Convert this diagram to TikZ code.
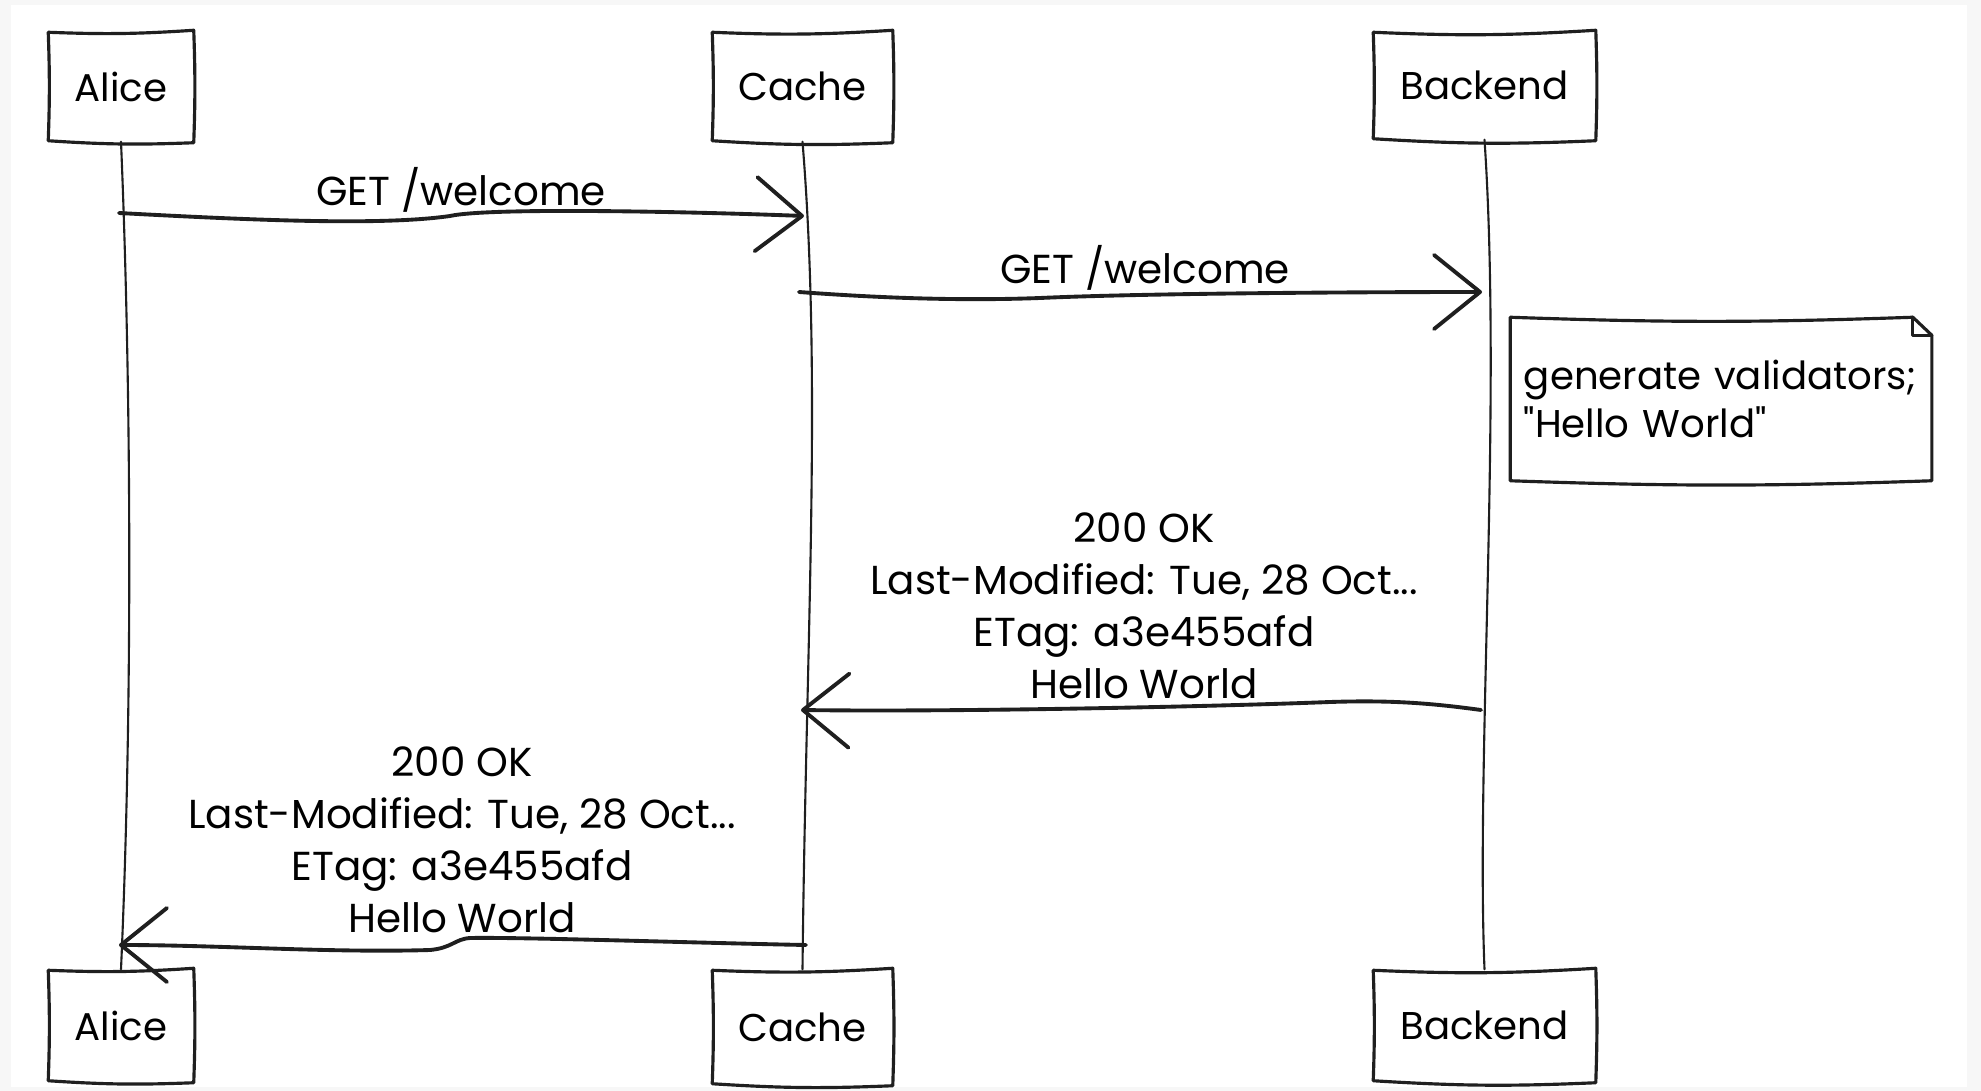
\documentclass[tikz,border=0pt]{standalone}
\usepackage{fontspec}
\setmainfont{Poppins}[Ligatures=TeXOff]
\usetikzlibrary{arrows.meta}

% hand-drawn looking outline around a named node
\newcommand\roughbox[1]{%
  \draw[boxline] ([shift={(-1,1)}]#1.north west) to[bend right=3] ([shift={(1,-1)}]#1.north east)
    to[bend left=2] ([shift={(1,1)}]#1.south east)
    to[bend left=3] ([shift={(-1,-1)}]#1.south west)
    to[bend right=2] ([shift={(-1,1)}]#1.north west);}

\begin{document}
\begin{tikzpicture}[x=0.01cm,y=-0.01cm,
  ink/.style={draw=black!88, line cap=round, line join=round},
  boxline/.style={ink, line width=0.9pt},
  lifeline/.style={ink, line width=0.6pt},
  msg/.style={ink, line width=1.1pt, -{Straight Barb[length=0.46cm,width=0.74cm,round]}},
  actor/.style={draw=none, inner sep=0pt, font=\fontsize{11}{14}\selectfont},
  msgtext/.style={align=center, inner sep=0pt, font=\fontsize{11.5}{14.8}\selectfont},
  notebox/.style={draw=none, align=left, inner ysep=0pt, font=\fontsize{11}{13.6}\selectfont},
]
% page and frame
\fill[gray!6] (0,0) rectangle (1981,1091);
\fill[white] (11,5) rectangle (1967,1087);
\useasboundingbox (0,0) rectangle (1981,1091);

% participants
\node[actor, minimum width=1.42cm, minimum height=1.09cm] (aliceTop) at (121,86.5) {Alice};
\node[actor, minimum width=1.77cm, minimum height=1.09cm] (cacheTop) at (802.5,86.5) {Cache};
\node[actor, minimum width=2.19cm, minimum height=1.07cm] (backTop) at (1484.5,85.5) {Backend};
\node[actor, minimum width=1.42cm, minimum height=1.11cm] (aliceBot) at (121,1025.5) {Alice};
\node[actor, minimum width=1.77cm, minimum height=1.14cm] (cacheBot) at (802.5,1027) {Cache};
\node[actor, minimum width=2.19cm, minimum height=1.11cm] (backBot) at (1484.5,1025.5) {Backend};
\roughbox{aliceTop}\roughbox{cacheTop}\roughbox{backTop}
\roughbox{aliceBot}\roughbox{cacheBot}\roughbox{backBot}

% lifelines
\draw[lifeline] (aliceTop.south) .. controls (131,380) and (133,700) .. (aliceBot.north);
\draw[lifeline] (cacheTop.south) .. controls (822,380) and (806,640) .. (cacheBot.north);
\draw[lifeline] (backTop.south) .. controls (1502,400) and (1476,760) .. (backBot.north);

% message end points
\coordinate (m1a) at (119,213);  \coordinate (m1b) at (804,216);
\coordinate (m2a) at (799,292);  \coordinate (m2b) at (1482,292);
\coordinate (m3a) at (1481,710); \coordinate (m3b) at (801,710);
\coordinate (m4a) at (806,945);  \coordinate (m4b) at (119,945);

% messages
\draw[msg] (m1a) .. controls (250,220) and (380,226) .. (450,216)
  .. controls (490,207) and (700,212) .. (m1b);
\node[msgtext] (t1) at (461,190) {GET /welcome};

\draw[msg] (m2a) .. controls (880,298) and (960,301) .. (1040,298)
  .. controls (1150,293) and (1380,292) .. (m2b);
\node[msgtext] (t2) at (1145,268) {GET /welcome};

\node[notebox, minimum width=4.2cm, minimum height=1.62cm, text width=3.94cm, inner xsep=0.13cm] (note) at (1721,399)
  {generate validators;\\"Hello World"};
\draw[boxline] (note.north west) to[bend right=2] ([shift={(-19,0)}]note.north east)
  -- ([shift={(0,18)}]note.north east) -- (note.south east)
  to[bend left=2] (note.south west) -- (note.north west);
\draw[boxline] ([shift={(-19,0)}]note.north east) -- ([shift={(-19,18)}]note.north east)
  -- ([shift={(0,18)}]note.north east);

\draw[msg] (m3a) .. controls (1430,703) and (1390,700) .. (1330,702)
  .. controls (1200,707) and (950,712) .. (m3b);
\node[msgtext] (t3) at (1144,606) {200 OK\\Last-Modified: Tue, 28 Oct...\\ETag: a3e455afd\\Hello World};

\draw[msg] (m4a) .. controls (700,943) and (520,937) .. (470,938)
  .. controls (455,939) and (452,948) .. (430,950)
  .. controls (330,953) and (220,945) .. (m4b);
\node[msgtext] (t4) at (462,840) {200 OK\\Last-Modified: Tue, 28 Oct...\\ETag: a3e455afd\\Hello World};
\end{tikzpicture}
\end{document}
